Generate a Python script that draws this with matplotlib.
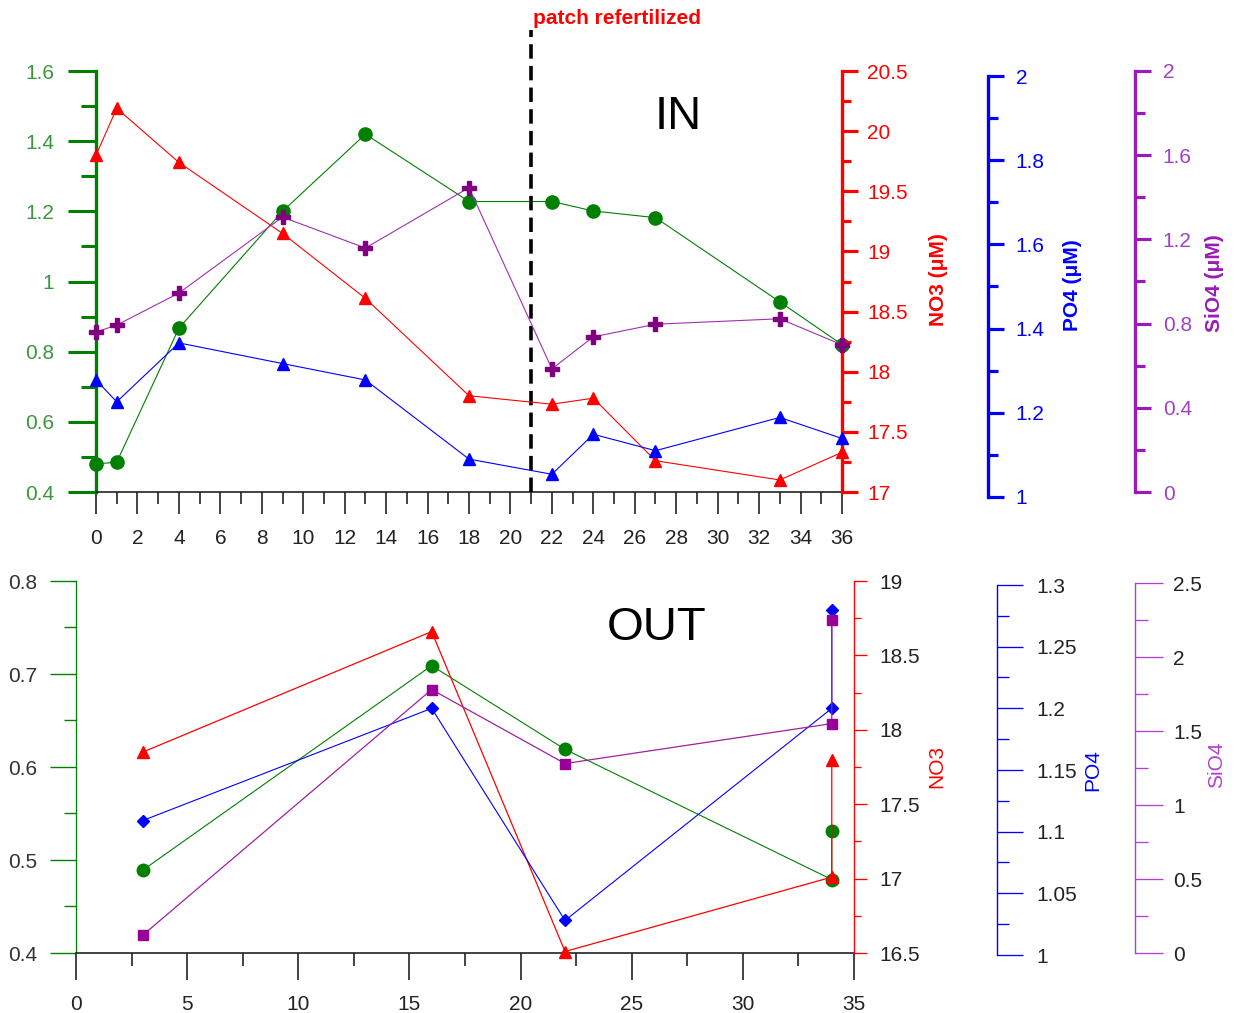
import matplotlib
matplotlib.use('Agg')
import matplotlib.pyplot as plt
from matplotlib.ticker import MultipleLocator, FuncFormatter

plt.rcParams['font.family'] = ['Liberation Sans', 'DejaVu Sans']

# ---------------- data: IN patch ----------------
in_days = [0, 1, 4, 9, 13, 18, 22, 24, 27, 33, 36]
in_chl = [0.48, 0.485, 0.867, 1.20, 1.42, 1.228, 1.228, 1.201, 1.182, 0.942, 0.820]
in_no3 = [19.80, 20.19, 19.74, 19.15, 18.61, 17.80, 17.73, 17.78, 17.26, 17.10, 17.33]
in_po4 = [1.278, 1.226, 1.366, 1.317, 1.278, 1.090, 1.054, 1.149, 1.110, 1.189, 1.139]
in_sio4 = [0.76, 0.793, 0.945, 1.306, 1.159, 1.446, 0.585, 0.737, 0.797, 0.823, 0.699]

# ---------------- data: OUT patch ----------------
out_days = [3, 16, 22, 34, 34]
out_chl = [0.489, 0.709, 0.619, 0.479, 0.531]
out_no3 = [17.85, 18.66, 16.51, 17.01, 17.80]
out_po4 = [1.109, 1.200, 1.028, 1.200, 1.280]
out_sio4 = [0.12, 1.78, 1.28, 1.55, 2.25]

refert_day = 21

W, H = 1241, 1013
fig = plt.figure(figsize=(W / 100, H / 100), dpi=100)


def rect(x0, x1, ytop, ybot):
    return [x0 / W, 1 - ybot / H, (x1 - x0) / W, (ybot - ytop) / H]


def fmt_num(v, pos):
    return ('%.3f' % v).rstrip('0').rstrip('.')


GREEN = '#008000'
RED = '#FF0000'
BLUE = '#0000FF'

# =============== TOP PANEL (IN) =================
ax = fig.add_axes(rect(96, 842, 71, 492), facecolor='none')
ax.set_xlim(0, 36)
ax.set_ylim(0.4, 1.6)
for s in ['top', 'right']:
    ax.spines[s].set_visible(False)
ax.spines['left'].set_color(GREEN)
ax.spines['left'].set_linewidth(2.4)
ax.spines['bottom'].set_color('#222222')
ax.spines['bottom'].set_linewidth(1.2)
ax.yaxis.set_major_locator(MultipleLocator(0.2))
ax.yaxis.set_minor_locator(MultipleLocator(0.1))
ax.yaxis.set_major_formatter(FuncFormatter(fmt_num))
ax.xaxis.set_major_locator(MultipleLocator(2))
ax.xaxis.set_minor_locator(MultipleLocator(1))
ax.tick_params(axis='y', which='major', length=20, width=2.2, color=GREEN,
               labelcolor='#3C963C', labelsize=15, pad=10)
ax.tick_params(axis='y', which='minor', length=11, width=2.2, color=GREEN)
ax.tick_params(axis='x', which='major', length=15.5, width=1.2, color='#222222',
               labelcolor='#222222', labelsize=15, pad=11)
ax.tick_params(axis='x', which='minor', length=8.4, width=1.2, color='#222222')

ax.plot(in_days, in_chl, color=GREEN, lw=0.8, marker='o', ms=9.5,
        mfc=GREEN, mec=GREEN, clip_on=False, zorder=5)
ax.axvline(refert_day, ymin=0, ymax=(492 - 30) / 421, color='black', lw=2.6,
           dashes=(4, 2), clip_on=False, zorder=6)
ax.text(refert_day + 0.1, (492 - 19) / 421, 'patch refertilized',
        transform=ax.get_xaxis_transform(), color=RED, fontsize=15,
        fontweight='bold', ha='left', va='center')
ax.text(28.1, (492 - 117) / 421, 'IN', transform=ax.get_xaxis_transform(),
        fontsize=34, ha='center', va='center', color='black')


def extra(rect_, xpos, color, lw, ylim, major, minor, lmaj, lmin, labcol,
          pad, xlim):
    a = fig.add_axes(rect_, facecolor='none')
    for s in ['top', 'bottom', 'left']:
        a.spines[s].set_visible(False)
    a.spines['right'].set_position(('axes', xpos))
    a.spines['right'].set_color(color)
    a.spines['right'].set_linewidth(lw)
    a.xaxis.set_visible(False)
    a.yaxis.tick_right()
    a.set_xlim(*xlim)
    a.set_ylim(*ylim)
    a.yaxis.set_major_locator(MultipleLocator(major))
    a.yaxis.set_minor_locator(MultipleLocator(minor))
    a.yaxis.set_major_formatter(FuncFormatter(fmt_num))
    a.tick_params(axis='y', which='major', length=lmaj, width=lw * 0.95,
                  color=color, labelcolor=labcol, labelsize=15, pad=pad)
    a.tick_params(axis='y', which='minor', length=lmin, width=lw * 0.95,
                  color=color)
    return a


top_w = 842 - 96
ax_no3 = extra(rect(96, 842, 71, 492), 1.0, RED, 2.4, (17, 20.5), 0.5, 0.25,
               11.3, 6.5, RED, 7, (0, 36))
ax_po4 = extra(rect(96, 842, 76, 497), (988 - 96) / top_w, BLUE, 2.4, (1, 2),
               0.2, 0.1, 11.3, 7.2, BLUE, 8.6, (0, 36))
ax_sio4 = extra(rect(96, 842, 71, 492), (1135 - 96) / top_w, '#9A1AB8', 2.4,
                (0, 2), 0.4, 0.2, 11.3, 7.2, '#A040C8', 8.6, (0, 36))

ax_no3.plot(in_days, in_no3, color=RED, lw=0.8, marker='^', ms=9,
            mfc=RED, mec=RED, clip_on=False, zorder=5)
ax_po4.plot(in_days, in_po4, color=BLUE, lw=0.8, marker='^', ms=9,
            mfc=BLUE, mec=BLUE, clip_on=False, zorder=5)
ax_sio4.plot(in_days, in_sio4, color='#A030B0', lw=0.8, marker='P', ms=9.5,
             mfc='#800080', mec='#800080', clip_on=False, zorder=5)

fig.text(938 / W, 1 - 280 / H, 'NO3 (\u03bcM)', rotation=90, color=RED,
         fontsize=15, fontweight='bold', ha='center', va='center')
fig.text(1072 / W, 1 - 285 / H, 'PO4 (\u03bcM)', rotation=90, color=BLUE,
         fontsize=15, fontweight='bold', ha='center', va='center')
fig.text(1215 / W, 1 - 283 / H, 'SiO4 (\u03bcM)', rotation=90,
         color='#9A1AB8', fontsize=15, fontweight='bold', ha='center',
         va='center')

# =============== BOTTOM PANEL (OUT) =================
bx = fig.add_axes(rect(76, 854, 581, 953), facecolor='none')
bx.set_xlim(0, 35)
bx.set_ylim(0.4, 0.8)
for s in ['top', 'right']:
    bx.spines[s].set_visible(False)
bx.spines['left'].set_color(GREEN)
bx.spines['left'].set_linewidth(0.9)
bx.spines['bottom'].set_color('#222222')
bx.spines['bottom'].set_linewidth(1.2)
bx.yaxis.set_major_locator(MultipleLocator(0.1))
bx.yaxis.set_minor_locator(MultipleLocator(0.05))
bx.yaxis.set_major_formatter(FuncFormatter(fmt_num))
bx.xaxis.set_major_locator(MultipleLocator(5))
bx.xaxis.set_minor_locator(MultipleLocator(2.5))
bx.tick_params(axis='y', which='major', length=19, width=1.0, color=GREEN,
               labelcolor='#333333', labelsize=15, pad=8.6)
bx.tick_params(axis='y', which='minor', length=8.6, width=1.0, color=GREEN)
bx.tick_params(axis='x', which='major', length=19.5, width=1.2,
               color='#222222', labelcolor='#222222', labelsize=15, pad=11)
bx.tick_params(axis='x', which='minor', length=9.3, width=1.2, color='#222222')

bx.plot(out_days, out_chl, color=GREEN, lw=0.8, marker='o', ms=9,
        mfc=GREEN, mec=GREEN, clip_on=False, zorder=5)
bx.text(26.1, (953 - 628) / 372, 'OUT', transform=bx.get_xaxis_transform(),
        fontsize=34, ha='center', va='center', color='black')

bot_w = 854 - 76
bx_no3 = extra(rect(76, 854, 581, 953), 1.0, RED, 1.0, (16.5, 19), 0.5, 0.25,
               9.6, 5, '#222222', 8.8, (0, 35))
bx_po4 = extra(rect(76, 854, 585, 955), (997 - 76) / bot_w, BLUE, 1.0,
               (1, 1.3), 0.05, 0.025, 18.7, 8.6, '#222222', 9.4, (0, 35))
bx_sio4 = extra(rect(76, 854, 583, 953), (1135 - 76) / bot_w, '#B040D0', 1.0,
                (0, 2.5), 0.5, 0.25, 20, 9.7, '#222222', 7.5, (0, 35))

bx_no3.plot(out_days, out_no3, color=RED, lw=0.9, marker='^', ms=8,
            mfc=RED, mec=RED, clip_on=False, zorder=5)
bx_po4.plot(out_days, out_po4, color=BLUE, lw=0.8, marker='D', ms=6.5,
            mfc=BLUE, mec=BLUE, clip_on=False, zorder=5)
bx_sio4.plot(out_days, out_sio4, color='#A020A0', lw=0.9, marker='s', ms=7,
             mfc='#990099', mec='#990099', clip_on=False, zorder=5)

fig.text(937 / W, 1 - 766 / H, 'NO3', rotation=90, color=RED, fontsize=15,
         ha='center', va='center')
fig.text(1093 / W, 1 - 770 / H, 'PO4', rotation=90, color=BLUE, fontsize=15,
         ha='center', va='center')
fig.text(1217 / W, 1 - 765 / H, 'SiO4', rotation=90, color='#B040D0',
         fontsize=15, ha='center', va='center')

fig.savefig('out.png', dpi=100, facecolor='white')
